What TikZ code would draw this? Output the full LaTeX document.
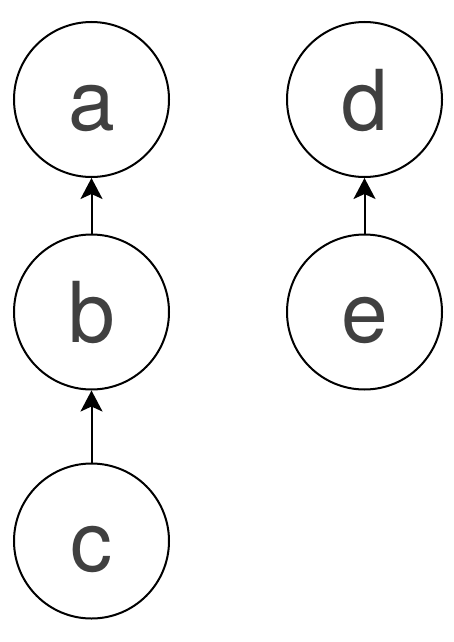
\documentclass[tikz,border=0pt]{standalone}
\usepackage{fontspec}
\setmainfont{TeX Gyre Heros}
\usetikzlibrary{arrows.meta}
\definecolor{lettergray}{HTML}{404040}
\begin{document}
\begin{tikzpicture}[x=1pt,y=-1pt,
  vertex/.style={circle,draw=black,line width=2pt,minimum size=155pt,inner sep=0pt,
    text=lettergray,font=\fontsize{84}{84}\selectfont,text height=61pt,text depth=0pt},
  edge/.style={-{Stealth[length=21pt,width=22pt,inset=5pt]},line width=2pt}]
 \useasboundingbox (0,0) rectangle (454,642);
 \node[vertex] (a) at (91.5,99.5) {a}; %左の列
 \node[vertex] (b) at (91.5,312) {b};
 \node[vertex] (c) at (91.5,541) {c};
 \node[vertex] (d) at (364.5,99.5) {d}; %右の列
 \node[vertex] (e) at (364.5,312) {e};
 \draw[edge] (b)--(a);
 \draw[edge] (c)--(b);
 \draw[edge] (e)--(d);
\end{tikzpicture}
\end{document}
